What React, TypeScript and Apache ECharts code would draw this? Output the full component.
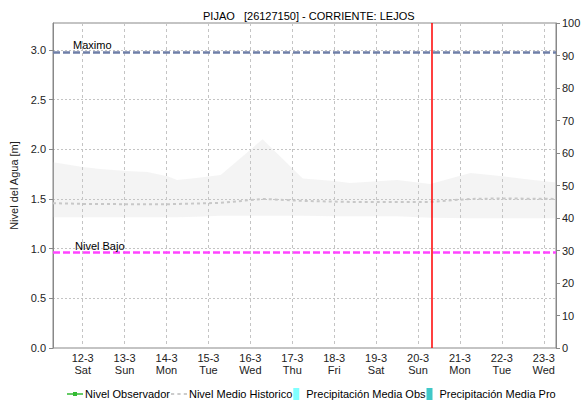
import React, { useEffect, useRef } from "react";
import * as echarts from "echarts";

// Day tick labels (one per day, at noon)
const days = ["12-3", "13-3", "14-3", "15-3", "16-3", "17-3", "18-3", "19-3", "20-3", "21-3", "22-3", "23-3"];
const weekdays = ["Sat", "Sun", "Mon", "Tue", "Wed", "Thu", "Fri", "Sat", "Sun", "Mon", "Tue", "Wed"];
const totalHours = 288; // hourly axis from 11-3 19h to 23-3 19h
const firstNoonIndex = 17;

// Historical band (hour index, level [m])
const bandHours = [0, 17, 27, 42, 54, 66, 71, 82, 96, 120, 143, 161, 170, 197, 216, 239, 256, 275, 288];
const bandUpper = [1.87, 1.82, 1.8, 1.78, 1.77, 1.725, 1.69, 1.71, 1.74, 2.1, 1.705, 1.68, 1.66, 1.69, 1.65, 1.76, 1.73, 1.69, 1.665];
const bandLower = [1.315, 1.315, 1.315, 1.315, 1.315, 1.315, 1.315, 1.32, 1.33, 1.33, 1.33, 1.325, 1.325, 1.325, 1.31, 1.305, 1.305, 1.305, 1.305];

// Mean historical level
const meanHours = [0, 17, 42, 66, 96, 120, 143, 170, 197, 216, 239, 256, 288];
const meanLevel = [1.457, 1.45, 1.447, 1.447, 1.46, 1.5, 1.48, 1.47, 1.47, 1.47, 1.5, 1.505, 1.5];

// Reference levels
const maximoLevel = 2.98;
const bajoLevel = 0.96;
const nowHourIndex = 217;

const categories: string[] = Array.from({ length: totalHours + 1 }, (_, i) => {
  const k = (i - firstNoonIndex) / 24;
  if (i >= firstNoonIndex && Number.isInteger(k) && k < days.length) return `${days[k]}\n${weekdays[k]}`;
  return `h${i}`;
});

const isNoon = (i: number) => i >= firstNoonIndex && (i - firstNoonIndex) % 24 === 0;

export default function App() {
  const ref = useRef<HTMLDivElement>(null);
  useEffect(() => {
    if (!ref.current) return;
    const chart = echarts.init(ref.current, null, { renderer: "svg" });
    const font = "Liberation Sans, Arial, sans-serif";
    const lower = bandHours.map((h, i) => [h, bandLower[i]]);
    const diff = bandHours.map((h, i) => [h, +(bandUpper[i] - bandLower[i]).toFixed(3)]);
    const mean = meanHours.map((h, i) => [h, meanLevel[i]]);
    chart.setOption({
      animation: false,
      textStyle: { fontFamily: font },
      title: {
        text: "PIJAO   [26127150] - CORRIENTE: LEJOS",
        left: 198,
        top: 5,
        textStyle: { fontSize: 11, fontWeight: "normal", color: "#000", fontFamily: font },
      },
      grid: {
        left: 53,
        right: 31,
        top: 23,
        bottom: 54,
        show: true,
        borderColor: "#888",
        borderWidth: 1,
        backgroundColor: "transparent",
        outerBoundsMode: "none",
        containLabel: false,
      },
      legend: {
        top: 383,
        left: 62,
        itemWidth: 16,
        itemHeight: 12,
        itemGap: 1,
        textStyle: { fontSize: 11, color: "#000", fontFamily: font, padding: [0, 0, 0, -3] },
        data: [
          { name: "Nivel Observador", icon: "path://M0,1.25H6V0H10V1.25H16V2.75H10V4H6V2.75H0Z", itemStyle: { color: "#33bb33" } },
          { name: "Nivel Medio Historico", icon: "path://M0,0H3V2H0Z M6,0H9V2H6Z M12,0H15V2H12Z", itemStyle: { color: "#cccccc" } },
          { name: "Precipitación Media Obs", icon: "path://M0,0H6V12H0Z", itemStyle: { color: "#80ffff" } },
          { name: "Precipitación Media Pro", icon: "path://M0,0H6V12H0Z", itemStyle: { color: "#40c8c8" } },
        ],
      },
      xAxis: {
        type: "category",
        boundaryGap: false,
        data: categories,
        axisLine: { show: false },
        axisTick: { show: false },
        axisLabel: {
          interval: (i: number) => isNoon(i),
          fontSize: 11,
          color: "#222",
          margin: 4,
          lineHeight: 12,
          fontFamily: font,
        },
        splitLine: {
          show: true,
          interval: (i: number) => isNoon(i),
          lineStyle: { color: "#c4c4c4", type: [3, 3], width: 1 },
        },
      },
      yAxis: [
        {
          type: "value",
          min: 0,
          max: 3.27,
          interval: 0.5,
          name: "Nivel del Agua [m]",
          nameLocation: "middle",
          nameGap: 30,
          nameTextStyle: { fontSize: 11, color: "#222", fontFamily: font },
          axisLine: { show: true, lineStyle: { color: "#888" } },
          axisTick: { show: true, length: 4, lineStyle: { color: "#888" } },
          axisLabel: { fontSize: 11, color: "#222", margin: 7, showMaxLabel: false, formatter: (v: number) => v.toFixed(1), fontFamily: font },
          splitLine: { show: true, lineStyle: { color: "#c4c4c4", type: [2, 2], width: 1 } },
        },
        {
          type: "value",
          min: 0,
          max: 100,
          interval: 10,
          name: "Precipitación [mm]",
          nameLocation: "middle",
          nameGap: 27,
          nameRotate: -90,
          nameTextStyle: { fontSize: 11, color: "#222", fontFamily: font },
          axisLine: { show: true, lineStyle: { color: "#888" } },
          axisTick: { show: true, length: 4, lineStyle: { color: "#888" } },
          axisLabel: { fontSize: 11, color: "#222", margin: 6, fontFamily: font },
          splitLine: { show: false },
        },
      ],
      series: [
        {
          name: "bandLower",
          type: "line",
          stack: "band",
          data: lower,
          symbol: "none",
          silent: true,
          lineStyle: { opacity: 0 },
          z: 1,
        },
        {
          name: "bandRange",
          type: "line",
          stack: "band",
          data: diff,
          symbol: "none",
          silent: true,
          lineStyle: { opacity: 0 },
          areaStyle: { color: "rgba(205,205,205,0.3)" },
          z: 1,
        },
        {
          name: "Nivel Medio Historico",
          type: "line",
          data: mean,
          symbol: "none",
          color: "#cccccc",
          lineStyle: { color: "#c8c8c8", width: 2, type: [3, 3] },
          z: 2,
          markLine: {
            symbol: "none",
            silent: true,
            animation: false,
            data: [
              {
                yAxis: maximoLevel,
                lineStyle: { color: "#6f7fa8", width: 2.5, type: [7, 3] },
                label: { show: true, formatter: "Maximo", position: "insideStartTop", fontSize: 11, color: "#000", padding: [0, 0, 0, 19], distance: 1 },
              },
              {
                yAxis: bajoLevel,
                lineStyle: { color: "#ff44ff", width: 2.5, type: [7, 3] },
                label: { show: true, formatter: "Nivel Bajo", position: "insideStartTop", fontSize: 11, color: "#000", padding: [0, 0, 0, 21], distance: 1 },
              },
              {
                xAxis: nowHourIndex,
                lineStyle: { color: "#ff0000", width: 1.5, type: "solid" },
                label: { show: false },
              },
            ],
          },
        },
        {
          name: "Nivel Observador",
          type: "line",
          data: [],
          color: "#33bb33",
          symbol: "rect",
        },
        {
          name: "Precipitación Media Obs",
          type: "bar",
          yAxisIndex: 1,
          data: [],
          color: "#80ffff",
        },
        {
          name: "Precipitación Media Pro",
          type: "bar",
          yAxisIndex: 1,
          data: [],
          color: "#40c8c8",
        },
      ],
    });
    return () => chart.dispose();
  }, []);
  return <div ref={ref} style={{ width: 587, height: 402, position: "absolute", left: 0, top: 0 }} />;
}
